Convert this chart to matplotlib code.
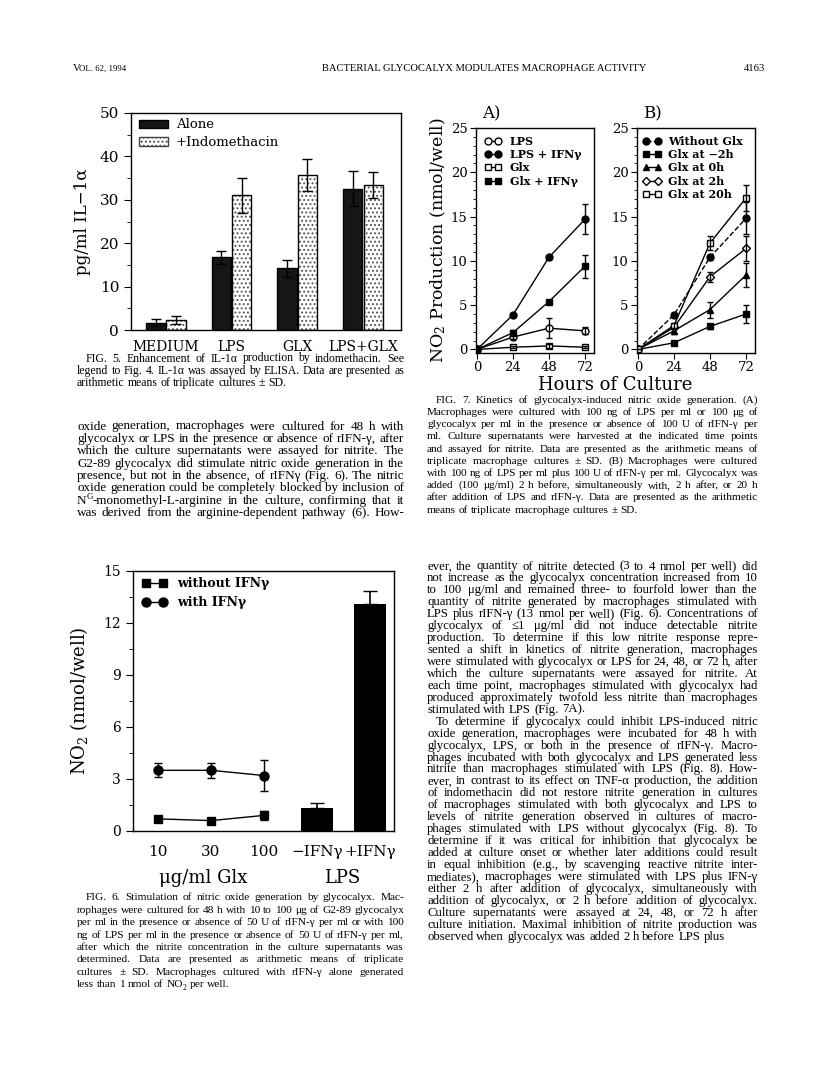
import re
import matplotlib
matplotlib.use("Agg")
import matplotlib.pyplot as plt
from matplotlib.font_manager import FontProperties
from matplotlib.ticker import MultipleLocator
from matplotlib.patches import Patch

W, H = 816, 1086

# ---- Fig. 5 data: IL-1a (pg/ml)
fig5_cats = ["MEDIUM", "LPS", "GLX", "LPS+GLX"]
fig5_alone = [1.7, 16.8, 14.2, 32.6]
fig5_alone_sd = [0.8, 1.5, 2.0, 4.0]
fig5_indo = [2.3, 31.0, 35.7, 33.4]
fig5_indo_sd = [0.9, 4.1, 3.7, 3.1]

# ---- Fig. 6 data: NO2 (nmol/well)
fig6_glx = ["10", "30", "100"]
fig6_no_ifn = [0.7, 0.6, 0.9]
fig6_no_ifn_sd = [0.1, 0.1, 0.25]
fig6_with_ifn = [3.5, 3.5, 3.2]
fig6_with_ifn_sd = [0.4, 0.45, 0.9]
fig6_lps = ["\u2212IFN\u03b3", "+IFN\u03b3"]
fig6_lps_vals = [1.3, 13.1]
fig6_lps_sd = [0.3, 0.75]

# ---- Fig. 7 data: hours of culture
hours = [0, 24, 48, 72]
a_lps = [0, 1.4, 2.4, 2.1]
a_lps_sd = [0, 0.2, 1.1, 0.4]
a_lps_ifn = [0, 3.9, 10.4, 14.7]
a_lps_ifn_sd = [0, 0.2, 0.2, 1.7]
a_glx = [0, 0.25, 0.4, 0.25]
a_glx_sd = [0, 0.1, 0.2, 0.1]
a_glx_ifn = [0, 1.9, 5.4, 9.4]
a_glx_ifn_sd = [0, 0.3, 0.2, 1.3]

b_without = [0, 3.9, 10.4, 14.8]
b_without_sd = [0, 0.2, 0.3, 1.8]
b_m2h = [0, 0.75, 2.6, 4.0]
b_m2h_sd = [0, 0.1, 0.3, 1.0]
b_0h = [0, 2.1, 4.5, 8.4]
b_0h_sd = [0, 0.3, 0.9, 1.4]
b_2h = [0, 2.5, 8.2, 11.4]
b_2h_sd = [0, 0.2, 0.6, 1.4]
b_20h = [0, 2.7, 12.0, 17.1]
b_20h_sd = [0, 0.3, 0.8, 1.5]

# ---- page text  (^X = superscript letter, _X = subscript letter)
fig5_caption = [
    "FIG. 5. Enhancement of IL-1\u03b1 production by indomethacin. See",
    "legend to Fig. 4. IL-1\u03b1 was assayed by ELISA. Data are presented as",
    "arithmetic means of triplicate cultures \u00b1 SD.",
]
left_body = [
    "oxide generation, macrophages were cultured for 48 h with",
    "glycocalyx or LPS in the presence or absence of rIFN-\u03b3, after",
    "which the culture supernatants were assayed for nitrite. The",
    "G2-89 glycocalyx did stimulate nitric oxide generation in the",
    "presence, but not in the absence, of rIFN\u03b3 (Fig. 6). The nitric",
    "oxide generation could be completely blocked by inclusion of",
    "N^G-monomethyl-L-arginine in the culture, confirming that it",
    "was derived from the arginine-dependent pathway (6). How-",
]
fig6_caption = [
    "FIG. 6. Stimulation of nitric oxide generation by glycocalyx. Mac-",
    "rophages were cultured for 48 h with 10 to 100 \u03bcg of G2-89 glycocalyx",
    "per ml in the presence or absence of 50 U of rIFN-\u03b3 per ml or with 100",
    "ng of LPS per ml in the presence or absence of 50 U of rIFN-\u03b3 per ml,",
    "after which the nitrite concentration in the culture supernatants was",
    "determined. Data are presented as arithmetic means of triplicate",
    "cultures \u00b1 SD. Macrophages cultured with rIFN-\u03b3 alone generated",
    "less than 1 nmol of NO_2 per well.",
]
fig7_caption = [
    "FIG. 7. Kinetics of glycocalyx-induced nitric oxide generation. (A)",
    "Macrophages were cultured with 100 ng of LPS per ml or 100 \u03bcg of",
    "glycocalyx per ml in the presence or absence of 100 U of rIFN-\u03b3 per",
    "ml. Culture supernatants were harvested at the indicated time points",
    "and assayed for nitrite. Data are presented as the arithmetic means of",
    "triplicate macrophage cultures \u00b1 SD. (B) Macrophages were cultured",
    "with 100 ng of LPS per ml plus 100 U of rIFN-\u03b3 per ml. Glycocalyx was",
    "added (100 \u03bcg/ml) 2 h before, simultaneously with, 2 h after, or 20 h",
    "after addition of LPS and rIFN-\u03b3. Data are presented as the arithmetic",
    "means of triplicate macrophage cultures \u00b1 SD.",
]
right_body = [
    "ever, the quantity of nitrite detected (3 to 4 nmol per well) did",
    "not increase as the glycocalyx concentration increased from 10",
    "to 100 \u03bcg/ml and remained three- to fourfold lower than the",
    "quantity of nitrite generated by macrophages stimulated with",
    "LPS plus rIFN-\u03b3 (13 nmol per well) (Fig. 6). Concentrations of",
    "glycocalyx of \u22641 \u03bcg/ml did not induce detectable nitrite",
    "production. To determine if this low nitrite response repre-",
    "sented a shift in kinetics of nitrite generation, macrophages",
    "were stimulated with glycocalyx or LPS for 24, 48, or 72 h, after",
    "which the culture supernatants were assayed for nitrite. At",
    "each time point, macrophages stimulated with glycocalyx had",
    "produced approximately twofold less nitrite than macrophages",
    "stimulated with LPS (Fig. 7A).",
    "To determine if glycocalyx could inhibit LPS-induced nitric",
    "oxide generation, macrophages were incubated for 48 h with",
    "glycocalyx, LPS, or both in the presence of rIFN-\u03b3. Macro-",
    "phages incubated with both glycocalyx and LPS generated less",
    "nitrite than macrophages stimulated with LPS (Fig. 8). How-",
    "ever, in contrast to its effect on TNF-\u03b1 production, the addition",
    "of indomethacin did not restore nitrite generation in cultures",
    "of macrophages stimulated with both glycocalyx and LPS to",
    "levels of nitrite generation observed in cultures of macro-",
    "phages stimulated with LPS without glycocalyx (Fig. 8). To",
    "determine if it was critical for inhibition that glycocalyx be",
    "added at culture onset or whether later additions could result",
    "in equal inhibition (e.g., by scavenging reactive nitrite inter-",
    "mediates), macrophages were stimulated with LPS plus IFN-\u03b3",
    "either 2 h after addition of glycocalyx, simultaneously with",
    "addition of glycocalyx, or 2 h before addition of glycocalyx.",
    "Culture supernatants were assayed at 24, 48, or 72 h after",
    "culture initiation. Maximal inhibition of nitrite production was",
    "observed when glycocalyx was added 2 h before LPS plus",
]

plt.rcParams["font.family"] = ["DejaVu Serif"]
plt.rcParams["mathtext.fontset"] = "dejavuserif"
plt.rcParams["axes.linewidth"] = 1.0
plt.rcParams["hatch.linewidth"] = 0.9

fig = plt.figure(figsize=(W / 100, H / 100), dpi=100)
renderer = fig.canvas.get_renderer()


def box(x0, y0, x1, y1):
    # pixel box (top-left origin) -> figure fraction rect
    return [x0 / W, 1 - y1 / H, (x1 - x0) / W, (y1 - y0) / H]


def ftext(x, y, s, **kw):
    return fig.text(x / W, 1 - y / H, s, **kw)


body_family = ["Liberation Serif", "DejaVu Serif"]


def pieces(word, size):
    # split a word into (text, size, baseline shift) runs
    m = re.match(r"^(.*?)([\^_])(\w)(.*)$", word)
    if not m:
        return [(word, size, 0.0)]
    shift = -0.35 if m.group(2) == "^" else 0.22
    out = [(m.group(1), size, 0.0), (m.group(3), size * 0.68, shift * size * 100 / 72)]
    if m.group(4):
        out.append((m.group(4), size, 0.0))
    return out


def measure(word, size):
    total = 0.0
    for s, sz, _ in pieces(word, size):
        prop = FontProperties(family=body_family, size=sz)
        total += renderer.get_text_width_height_descent(s, prop, ismath=False)[0]
    return total


def draw_word(x, y, word, size):
    for s, sz, dy in pieces(word, size):
        prop = FontProperties(family=body_family, size=sz)
        ftext(x, y + dy, s, fontproperties=prop, va="baseline", ha="left")
        x += renderer.get_text_width_height_descent(s, prop, ismath=False)[0]


def put_lines(lines, x0, x1, y0, dy, indent=(), ragged=(), base=10.0):
    # pick the font size so the tightest justified line just fits the column
    sp = measure("a b", base) - measure("ab", base)
    ratio = 10.0
    for i, line in enumerate(lines):
        if i in ragged:
            continue
        words = line.split(" ")
        natural = sum(measure(w, base) for w in words) + sp * (len(words) - 1)
        avail = x1 - x0 - (9 if i in indent else 0)
        ratio = min(ratio, avail / natural)
    size = base * ratio * 0.995
    space = sp * ratio
    for i, line in enumerate(lines):
        y = y0 + i * dy + 3.5
        xs = x0 + (9 if i in indent else 0)
        words = line.split(" ")
        widths = [measure(w, size) for w in words]
        if i in ragged or len(words) == 1:
            gap = space
        else:
            gap = (x1 - xs - sum(widths)) / (len(words) - 1)
        x = xs
        for w, wd in zip(words, widths):
            draw_word(x, y, w, size)
            x += wd + gap


# header
hp = FontProperties(family=body_family, size=7.6)
ftext(73, 71, "V", fontproperties=hp)
ftext(79, 71, "OL. 62, 1994", fontproperties=FontProperties(family=body_family, size=6.3))
ftext(322, 71, "BACTERIAL GLYCOCALYX MODULATES MACROPHAGE ACTIVITY", fontproperties=hp)
ftext(744, 71, "4163", fontproperties=hp)

put_lines(fig5_caption, 77, 404, 358, 12.1, indent={0}, ragged={2})
put_lines(left_body, 77, 404, 426, 12.4)
put_lines(fig6_caption, 77, 404, 897, 12.4, indent={0}, ragged={7})
put_lines(fig7_caption, 427, 758, 399, 12.25, indent={0}, ragged={9})
put_lines(right_body, 427, 758, 566, 11.94, indent={13}, ragged={12, 31})

# ================= Fig. 5 =================
ax5 = fig.add_axes(box(131, 113, 401, 330))
x5 = list(range(len(fig5_cats)))
bw = 0.29
xa = [v - bw / 2 - 0.01 for v in x5]
xi = [v + bw / 2 + 0.01 for v in x5]
ax5.bar(xa, fig5_alone, bw, color="#161616", edgecolor="black", linewidth=1.0)
ax5.bar(xi, fig5_indo, bw, color="white", edgecolor="#555555", hatch="....", linewidth=0)
ax5.bar(xi, fig5_indo, bw, fill=False, edgecolor="black", linewidth=1.0)
ax5.errorbar(xa, fig5_alone, yerr=fig5_alone_sd, fmt="none", ecolor="black", elinewidth=1, capsize=3.5)
ax5.errorbar(xi, fig5_indo, yerr=fig5_indo_sd, fmt="none", ecolor="black", elinewidth=1, capsize=3.5)
ax5.set_xlim(-0.53, 3.58)
ax5.set_ylim(0, 50)
ax5.yaxis.set_major_locator(MultipleLocator(10))
ax5.yaxis.set_minor_locator(MultipleLocator(5))
ax5.tick_params(axis="y", which="major", length=5, direction="out", labelsize=11)
ax5.tick_params(axis="y", which="minor", length=3, direction="out")
ax5.set_xticks(x5, fig5_cats)
ax5.tick_params(axis="x", length=0, pad=7, labelsize=10)
ax5.set_ylabel("pg/ml IL\u22121\u03b1", fontsize=12, labelpad=6)
h5 = [Patch(facecolor="#161616", edgecolor="black", label="Alone"),
      Patch(facecolor="white", edgecolor="#444444", hatch="....", label="+Indomethacin")]
ax5.legend(handles=h5, loc="upper left", bbox_to_anchor=(0.03, 0.975), frameon=False,
           borderpad=0, borderaxespad=0, handlelength=2.2, handleheight=0.6,
           handletextpad=0.6, labelspacing=0.35, fontsize=9.5)

# ================= Fig. 6 =================
ax6 = fig.add_axes(box(133, 571, 394, 831))
xg = list(range(len(fig6_glx)))
xl = [len(fig6_glx) + i for i in range(len(fig6_lps))]
ax6.plot(xg, fig6_no_ifn, color="black", marker="s", ms=6, lw=1, label="without IFN\u03b3")
ax6.plot(xg, fig6_with_ifn, color="black", marker="o", ms=6.5, lw=1, label="with IFN\u03b3")
ax6.errorbar(xg, fig6_no_ifn, yerr=fig6_no_ifn_sd, fmt="none", ecolor="black", elinewidth=1, capsize=3)
ax6.errorbar(xg, fig6_with_ifn, yerr=fig6_with_ifn_sd, fmt="none", ecolor="black", elinewidth=1, capsize=3)
ax6.bar(xl, fig6_lps_vals, 0.6, color="black")
ax6.errorbar(xl, fig6_lps_vals, yerr=[[0, 0], fig6_lps_sd], fmt="none", ecolor="black",
             elinewidth=1.2, capsize=5)
ax6.set_xlim(-0.47, 4.45)
ax6.set_ylim(0, 15)
ax6.yaxis.set_major_locator(MultipleLocator(3))
ax6.yaxis.set_minor_locator(MultipleLocator(1.5))
ax6.tick_params(axis="y", which="major", length=5, direction="out", labelsize=10)
ax6.tick_params(axis="y", which="minor", length=3, direction="out")
ax6.set_xticks(xg + xl, fig6_glx + fig6_lps)
ax6.tick_params(axis="x", length=0, pad=10, labelsize=11)
ax6.set_ylabel("NO$_2$ (nmol/well)", fontsize=13, labelpad=10)
ax6.legend(loc="upper left", bbox_to_anchor=(0.035, 0.975), frameon=False, numpoints=2,
           borderpad=0, borderaxespad=0, handlelength=2.0, handletextpad=0.8,
           labelspacing=0.45, prop=FontProperties(family="DejaVu Serif", weight="bold", size=9))
ftext(203, 878, "\u03bcg/ml Glx", fontsize=13, ha="center", va="center")
ftext(342, 878, "LPS", fontsize=13, ha="center", va="center")


# ================= Fig. 7 =================
def fig7_axes(rect, label):
    ax = fig.add_axes(rect)
    ax.set_xlim(-0.6, 78)
    ax.set_ylim(-0.4, 25)
    ax.set_xticks(hours)
    ax.yaxis.set_major_locator(MultipleLocator(5))
    ax.yaxis.set_minor_locator(MultipleLocator(1))
    ax.tick_params(axis="both", which="major", length=4, direction="out", labelsize=9.5, pad=2)
    ax.tick_params(axis="y", which="minor", length=2, direction="out")
    ax.text(0.05, 1.025, label, transform=ax.transAxes, fontsize=12, va="bottom")
    return ax


def series(ax, y, sd, ls="-", **mk):
    ax.plot(hours, y, color="black", lw=1, ls=ls, **mk)
    ax.errorbar(hours, y, yerr=sd, fmt="none", ecolor="black", elinewidth=1, capsize=2.5)


axA = fig7_axes(box(476, 128, 594, 353), "A)")
series(axA, a_lps, a_lps_sd, marker="o", ms=5, mfc="white", label="LPS")
series(axA, a_lps_ifn, a_lps_ifn_sd, marker="o", ms=5, label="LPS + IFN\u03b3")
series(axA, a_glx, a_glx_sd, marker="s", ms=5, mfc="white", label="Glx")
series(axA, a_glx_ifn, a_glx_ifn_sd, marker="s", ms=5, label="Glx + IFN\u03b3")
leg_font = FontProperties(family="DejaVu Serif", weight="bold", size=8)
axA.legend(loc="upper left", bbox_to_anchor=(0.07, 0.965), frameon=False, numpoints=2,
           borderpad=0, borderaxespad=0, handlelength=1.5, handletextpad=0.8,
           labelspacing=0.2, prop=leg_font)

axB = fig7_axes(box(637, 128, 755, 353), "B)")
series(axB, b_without, b_without_sd, ls="--", marker="o", ms=5, label="Without Glx")
series(axB, b_m2h, b_m2h_sd, marker="s", ms=5, label="Glx at \u22122h")
series(axB, b_0h, b_0h_sd, marker="^", ms=5, label="Glx at 0h")
series(axB, b_2h, b_2h_sd, marker="D", ms=4, mfc="white", label="Glx at 2h")
series(axB, b_20h, b_20h_sd, marker="s", ms=5, mfc="white", label="Glx at 20h")
axB.legend(loc="upper left", bbox_to_anchor=(0.05, 0.965), frameon=False, numpoints=2,
           borderpad=0, borderaxespad=0, handlelength=1.7, handletextpad=0.6,
           labelspacing=0.2, prop=leg_font)

ftext(438, 240, "NO$_2$ Production (nmol/well)", fontsize=12.5, rotation=90, ha="center", va="center")
ftext(615, 385, "Hours of Culture", fontsize=13, ha="center", va="center")

fig.savefig("out.png", dpi=100)
